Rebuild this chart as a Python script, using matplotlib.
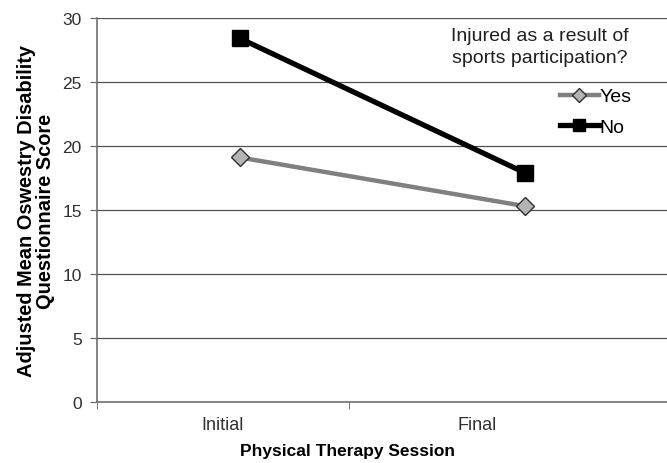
import matplotlib
matplotlib.use("Agg")
import matplotlib.pyplot as plt

sessions = ["Initial", "Final"]
yes_scores = [19.1, 15.3]
no_scores = [28.4, 17.9]
y_ticks = [0, 5, 10, 15, 20, 25, 30]
legend_title = "Injured as a result of\nsports participation?"

plt.rcParams['font.family'] = ['Liberation Sans', 'DejaVu Sans']

fig = plt.figure(figsize=(6.67, 4.64), dpi=100)
ax = fig.add_axes([0.1454, 0.1315, 0.8546, 0.8276])

x = list(range(len(sessions)))
ax.plot(x, yes_scores, color="#808080", lw=3.2, marker="D", ms=9,
        mfc="#b4b4b4", mec="#303030", mew=1.0, label="Yes", zorder=3)
ax.plot(x, no_scores, color="black", lw=3.8, marker="s", ms=11,
        mfc="black", mec="black", label="No", zorder=3)

ax.set_xlim(-0.502, 1.498)
ax.set_ylim(0, 30)
ax.set_yticks(y_ticks)
ax.yaxis.grid(True, color="#505050", lw=0.9)
ax.set_axisbelow(True)
ax.tick_params(axis="y", labelsize=12.5, length=5, color="#606060",
               colors="#303030", pad=6)

# category labels sit between the boundary ticks
ax.set_xticks([-0.06, 0.832], sessions)
ax.tick_params(axis="x", length=0, labelsize=13, colors="#303030", pad=10)
ax.set_xticks([-0.502, 0.382], minor=True)
ax.tick_params(axis="x", which="minor", length=5, color="#606060")

for s in ["top", "right"]:
    ax.spines[s].set_visible(False)
for s in ["left", "bottom"]:
    ax.spines[s].set_color("#707070")
    ax.spines[s].set_linewidth(1.2)

ax.set_xlabel("Physical Therapy Session", fontsize=12.5, fontweight="bold")
ax.xaxis.set_label_coords(0.44, -0.106)
ax.set_ylabel("Adjusted Mean Oswestry Disability\nQuestionnaire Score",
              fontsize=14.4, fontweight="bold", linespacing=1.0)
ax.yaxis.set_label_coords(-0.074, 0.5)

ax.text(0.777, 0.926, legend_title, transform=ax.transAxes, ha="center",
        va="center", fontsize=14, linespacing=1.35, color="#202020")
ax.legend(loc="upper left", bbox_to_anchor=(0.812, 0.818), frameon=False,
          fontsize=14, handlelength=2.0, handletextpad=0.05,
          labelspacing=0.65, markerscale=0.75, borderpad=0, borderaxespad=0)

fig.savefig("out.png", dpi=100)
